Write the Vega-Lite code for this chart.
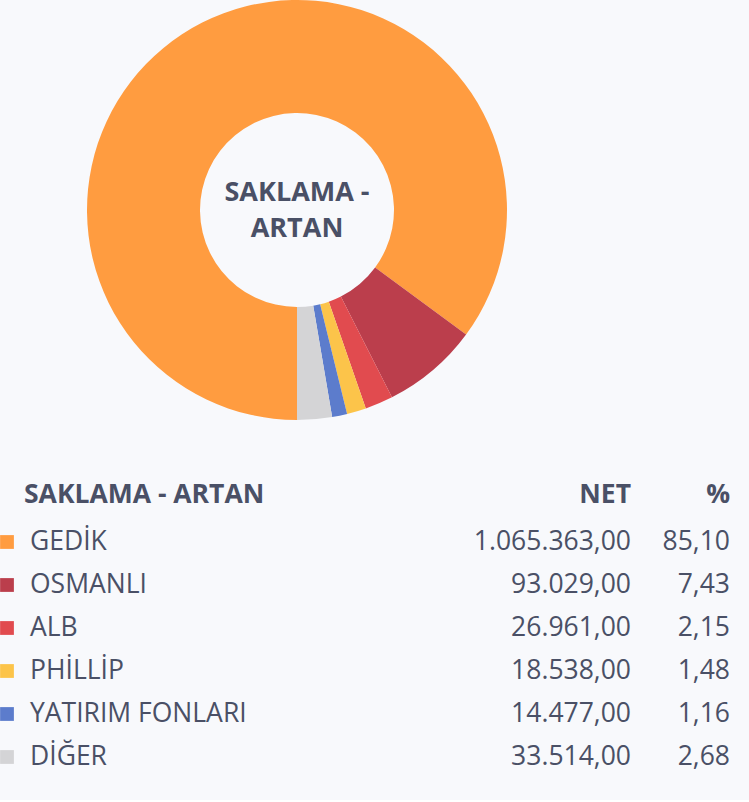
{
  "$schema": "https://vega.github.io/schema/vega-lite/v6.json",
  "background": "#f8f9fc",
  "padding": 0,
  "bounds": "flush",
  "spacing": 36,
  "config": {
    "view": {"stroke": null},
    "font": "Open Sans",
    "text": {"font": "Open Sans", "color": "#4a5066"}
  },
  "datasets": {
    "rows": [
      {"order": 1, "name": "GEDİK", "net": 1065363, "netText": "1.065.363,00", "pct": "85,10"},
      {"order": 2, "name": "OSMANLI", "net": 93029, "netText": "93.029,00", "pct": "7,43"},
      {"order": 3, "name": "ALB", "net": 26961, "netText": "26.961,00", "pct": "2,15"},
      {"order": 4, "name": "PHİLLİP", "net": 18538, "netText": "18.538,00", "pct": "1,48"},
      {"order": 5, "name": "YATIRIM FONLARI", "net": 14477, "netText": "14.477,00", "pct": "1,16"},
      {"order": 6, "name": "DİĞER", "net": 33514, "netText": "33.514,00", "pct": "2,68"}
    ],
    "header": [
      {"name": "SAKLAMA - ARTAN", "netText": "NET", "pct": "%"}
    ]
  },
  "vconcat": [
    {
      "width": 594,
      "height": 420,
      "layer": [
        {
          "data": {"name": "rows"},
          "mark": {"type": "arc", "outerRadius": 210, "innerRadius": 97},
          "encoding": {
            "theta": {"field": "net", "type": "quantitative", "stack": true, "scale": {"range": [3.14159265, 9.42477796]}},
            "order": {"field": "order", "type": "quantitative"},
            "color": {
              "field": "name", "type": "nominal", "legend": null,
              "scale": {
                "domain": ["GEDİK", "OSMANLI", "ALB", "PHİLLİP", "YATIRIM FONLARI", "DİĞER"],
                "range": ["#ff9c40", "#bb3e4c", "#e14b4f", "#fcc44a", "#5c7ccc", "#d4d4d6"]
              }
            }
          }
        },
        {
          "data": {"values": [{"label": "SAKLAMA - ARTAN"}]},
          "mark": {"type": "text", "fontSize": 27, "fontWeight": "bold", "lineHeight": 36, "align": "center", "baseline": "middle", "dy": -17, "color": "#4a5066"},
          "encoding": {
            "text": {"value": ["SAKLAMA -", "ARTAN"]}
          }
        }
      ]
    },
    {
      "width": 749,
      "height": 344,
      "encoding": {
        "y": {
          "field": "name", "type": "ordinal", "axis": null,
          "scale": {"type": "point", "padding": 1, "domain": ["SAKLAMA - ARTAN", "GEDİK", "OSMANLI", "ALB", "PHİLLİP", "YATIRIM FONLARI", "DİĞER"]}
        }
      },
      "layer": [
        {
          "data": {"name": "header"},
          "mark": {"type": "text", "fontSize": 26.5, "fontWeight": "bold", "align": "left", "baseline": "middle", "color": "#4a5066"},
          "encoding": {"x": {"value": 24}, "yOffset": {"value": -4}, "text": {"field": "name"}}
        },
        {
          "data": {"name": "header"},
          "mark": {"type": "text", "fontSize": 26.5, "fontWeight": "bold", "align": "right", "baseline": "middle", "color": "#4a5066"},
          "encoding": {"x": {"value": 631}, "yOffset": {"value": -4}, "text": {"field": "netText"}}
        },
        {
          "data": {"name": "header"},
          "mark": {"type": "text", "fontSize": 26.5, "fontWeight": "bold", "align": "right", "baseline": "middle", "color": "#4a5066"},
          "encoding": {"x": {"value": 730}, "yOffset": {"value": -4}, "text": {"field": "pct"}}
        },
        {
          "data": {"name": "rows"},
          "mark": {"type": "point", "shape": "square", "filled": true, "size": 190, "opacity": 1},
          "encoding": {
            "x": {"value": 7},
            "color": {
              "field": "name", "type": "nominal", "legend": null,
              "scale": {
                "domain": ["GEDİK", "OSMANLI", "ALB", "PHİLLİP", "YATIRIM FONLARI", "DİĞER"],
                "range": ["#ff9c40", "#bb3e4c", "#e14b4f", "#fcc44a", "#5c7ccc", "#d4d4d6"]
              }
            }
          }
        },
        {
          "data": {"name": "rows"},
          "mark": {"type": "text", "fontSize": 26.5, "align": "left", "baseline": "middle", "color": "#4a5066"},
          "encoding": {"x": {"value": 30}, "text": {"field": "name"}}
        },
        {
          "data": {"name": "rows"},
          "mark": {"type": "text", "fontSize": 26.5, "align": "right", "baseline": "middle", "color": "#4a5066"},
          "encoding": {"x": {"value": 631}, "text": {"field": "netText"}}
        },
        {
          "data": {"name": "rows"},
          "mark": {"type": "text", "fontSize": 26.5, "align": "right", "baseline": "middle", "color": "#4a5066"},
          "encoding": {"x": {"value": 730}, "text": {"field": "pct"}}
        }
      ]
    }
  ]
}
